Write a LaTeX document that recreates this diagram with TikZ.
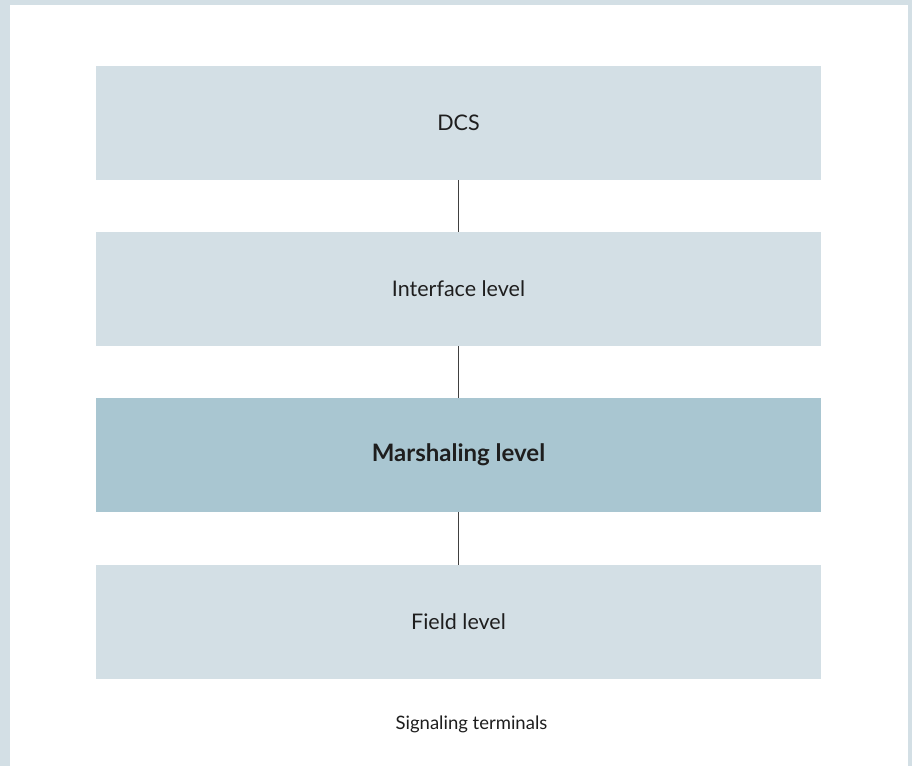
\documentclass[tikz,border=0pt]{standalone}
\usepackage{fontspec}
\setmainfont{Lato}
\definecolor{lightbox}{HTML}{D3DFE5}
\definecolor{darkbox}{HTML}{A9C6D1}
\definecolor{txt}{HTML}{1E1E1E}
\begin{document}
\begin{tikzpicture}[x=1pt,y=-1pt,
  levelbox/.style={fill=lightbox, draw=none, minimum width=725pt, minimum height=114pt, inner sep=0pt, font=\fontsize{21.5}{25}\selectfont, text=txt},
  conn/.style={draw=txt!85, line width=1.8pt}]
\useasboundingbox (0,0) rectangle (912,766);
\fill[lightbox] (0,0) rectangle (912,766);
\fill[white] (10,5) rectangle (908,766);
\node[levelbox] (dcs) at (458.5,123) {DCS};
\node[levelbox] (iface) at (458.5,289) {Interface level};
\node[levelbox, fill=darkbox, font=\fontsize{24}{28}\selectfont\bfseries] (marsh) at (458.5,455) {Marshaling level};
\node[font=\fontsize{18.5}{22}\selectfont, text=txt] (cap) at (471.5,724) {Signaling terminals};
\node[levelbox] (field) at (458.5,622) {Field level};
\draw[conn] (dcs.south) -- (iface.north);
\draw[conn] (iface.south) -- (marsh.north);
\draw[conn] (marsh.south) -- (field.north);
\end{tikzpicture}
\end{document}
